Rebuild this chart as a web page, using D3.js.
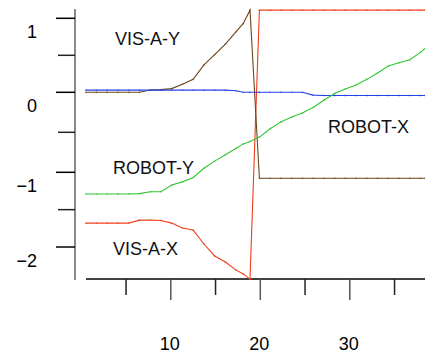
<!DOCTYPE html>
<html>
<head>
<meta charset="utf-8">
<script src="https://cdn.jsdelivr.net/npm/d3@7"></script>
<style>
  body { margin: 0; background: #fff; }
  svg { display: block; font-family: "Liberation Sans", Arial, sans-serif; }
</style>
</head>
<body>
<div></div>
<script>
var width = 425;
var height = 354;

// sample times
var times = [0.5, 1.7, 2.9, 4.1, 5.3, 6.5, 7.7, 8.9, 10.1, 11.3, 12.5, 13.7, 14.9, 16.1, 17.3, 18.1, 18.85,
  19.9, 21.1, 22.3, 23.5, 24.7, 25.9, 27.1, 28.3, 29.5, 30.7, 31.9, 33.1, 34.3, 35.5, 36.7, 37.9, 38.4];

var robotX = [0.03, 0.03, 0.03, 0.03, 0.03, 0.03, 0.03, 0.03, 0.03, 0.03, 0.03, 0.03, 0.03, 0.03, 0.02, 0, 0,
  0, 0, 0, 0, 0, -0.035, -0.04, -0.04, -0.04, -0.04, -0.04, -0.04, -0.04, -0.04, -0.04, -0.04, -0.04];

var robotY = [-1.29, -1.29, -1.29, -1.29, -1.29, -1.285, -1.26, -1.26, -1.17, -1.128, -1.07, -0.95, -0.86, -0.78, -0.70, -0.645, -0.615,
  -0.56, -0.455, -0.37, -0.31, -0.26, -0.19, -0.10, -0.015, 0.045, 0.10, 0.175, 0.26, 0.355, 0.40, 0.44, 0.54, 0.59];

var visAX = [-1.68, -1.68, -1.68, -1.68, -1.68, -1.64, -1.64, -1.645, -1.68, -1.745, -1.773, -1.96, -2.12, -2.2, -2.31, -2.36, -2.43,
  1.11, 1.11, 1.11, 1.11, 1.11, 1.11, 1.11, 1.11, 1.11, 1.11, 1.11, 1.11, 1.11, 1.11, 1.11, 1.11, 1.11];

var visAY = [0, 0, 0, 0, 0, 0, 0.03, 0.036, 0.05, 0.11, 0.175, 0.37, 0.51, 0.65, 0.82, 0.93, 1.11,
  -1.08, -1.08, -1.08, -1.08, -1.08, -1.08, -1.08, -1.08, -1.08, -1.08, -1.08, -1.08, -1.08, -1.08, -1.08, -1.08, -1.08];

var xMajor = [10, 20, 30];
var xMinor = [5, 15, 25, 35];
var yMajor = [-2, -1, 0, 1];
var yMinor = [-1.5, -0.5, 0.5];

var series = [
  { name: "VIS-A-X", values: visAX, color: "#f0401e", label: [3.54, -2.107] },
  { name: "VIS-A-Y", values: visAY, color: "#6e4519", label: [3.77, 0.635] },
  { name: "ROBOT-X", values: robotX, color: "#2443e6", label: [27.56, -0.5125] },
  { name: "ROBOT-Y", values: robotY, color: "#33c633", label: [3.54, -1.027] }
];

var svg = d3.select("div").append("svg")
  .attr("width", width)
  .attr("height", height);

var x = d3.scaleLinear().domain([0, 40]).range([81.3, 439.3]);
// tick spacing of the original is not quite even
var y = d3.scaleLinear().domain([-2, -1, 0, 1]).range([247, 172.3, 92.3, 18.3]);

var line = d3.line()
  .x((d) => x(d[0]))
  .y((d) => y(d[1]));

// y axis
svg.append("line")
  .attr("x1", 75).attr("x2", 75)
  .attr("y1", 9).attr("y2", 280)
  .attr("stroke", "#888").attr("stroke-width", 2);

svg.append("g").selectAll("line").data(yMajor).join("line")
  .attr("x1", 56).attr("x2", 75)
  .attr("y1", (d) => y(d)).attr("y2", (d) => y(d))
  .attr("stroke", "#000").attr("stroke-width", 1.5);

svg.append("g").selectAll("line").data(yMinor).join("line")
  .attr("x1", 58).attr("x2", 75)
  .attr("y1", (d) => y(d)).attr("y2", (d) => y(d))
  .attr("stroke", "#222").attr("stroke-width", 1.5);

svg.append("g").selectAll("text").data(yMajor).join("text")
  .attr("x", 37)
  .attr("y", (d) => y(d) + 20)
  .attr("text-anchor", "end")
  .attr("font-size", 18)
  .text((d) => (d < 0 ? "\u2212" + Math.abs(d) : d));

// x axis
svg.append("line")
  .attr("x1", 86).attr("x2", 425)
  .attr("y1", 279).attr("y2", 279)
  .attr("stroke", "#000").attr("stroke-width", 1.5);

svg.append("g").selectAll("line").data(xMajor).join("line")
  .attr("x1", (d) => x(d)).attr("x2", (d) => x(d))
  .attr("y1", 279).attr("y2", 300)
  .attr("stroke", "#555").attr("stroke-width", 1.5);

svg.append("g").selectAll("line").data(xMinor).join("line")
  .attr("x1", (d) => x(d)).attr("x2", (d) => x(d))
  .attr("y1", 279).attr("y2", 295)
  .attr("stroke", "#222").attr("stroke-width", 1.5);

svg.append("g").selectAll("text").data(xMajor).join("text")
  .attr("x", (d) => x(d) - 1)
  .attr("y", 350)
  .attr("text-anchor", "middle")
  .attr("font-size", 18)
  .text((d) => d);

// series lines
series.forEach((s) => {
  var pts = times.map((t, i) => [t, s.values[i]]);
  svg.append("path")
    .datum(pts)
    .attr("fill", "none")
    .attr("stroke", s.color)
    .attr("stroke-width", 1.1)
    .attr("d", line);

  svg.append("g").selectAll("circle").data(pts).join("circle")
    .attr("cx", (d) => x(d[0]))
    .attr("cy", (d) => y(d[1]))
    .attr("r", 0.9)
    .attr("fill", s.color)
    .attr("opacity", 0.6);
});

// series labels
svg.append("g").selectAll("text").data(series).join("text")
  .attr("x", (d) => x(d.label[0]))
  .attr("y", (d) => y(d.label[1]))
  .attr("font-size", 18)
  .attr("fill", "#111")
  .text((d) => d.name);
</script>
</body>
</html>
